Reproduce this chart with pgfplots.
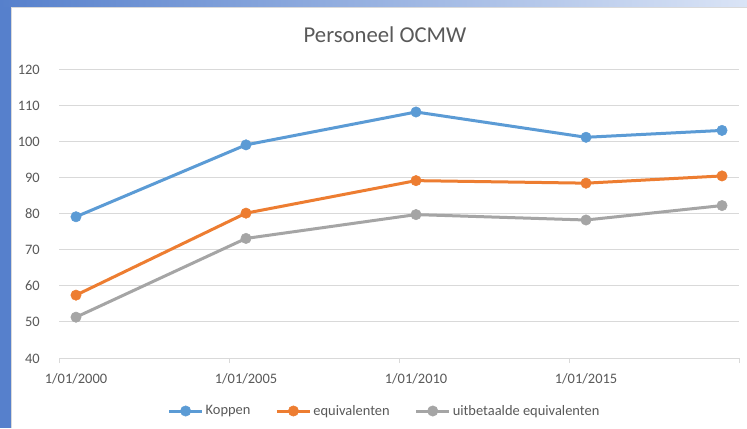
\documentclass[border=0pt]{standalone}
\usepackage{fontspec}
\setmainfont{Carlito}
\usepackage{pgfplots}
\pgfplotsset{compat=1.18}
\definecolor{kop}{RGB}{91,155,213}
\definecolor{equ}{RGB}{237,125,49}
\definecolor{uit}{RGB}{165,165,165}
\definecolor{txt}{RGB}{89,89,89}
\definecolor{gridc}{RGB}{217,217,217}
\definecolor{barblue}{RGB}{86,128,204}
\definecolor{barlight}{RGB}{218,228,246}
\newcommand{\TickFont}{\fontsize{14.5}{17}\selectfont}
\newcommand{\TitleFont}{\fontsize{22.8}{26}\selectfont}
\begin{document}
\begin{tikzpicture}[x=1bp,y=1bp]
\path[use as bounding box] (0,0) rectangle (747,428);
\fill[white] (0,0) rectangle (747,428);
\fill[barblue] (0,0) rectangle (11,428);
\shade[left color=barblue, right color=barlight] (0,421) rectangle (747,428);
\draw[gridc, line width=0.8bp] (11.5,0) -- (11.5,420.5) -- (747,420.5);
\node[text=txt, font=\TitleFont, inner sep=0pt] at (385,393) {Personeel OCMW};
\begin{axis}[
    at={(59bp,70bp)}, anchor=south west,
    scale only axis,
    width=680bp, height=289bp,
    xmin=2000, xmax=2020,
    ymin=40, ymax=120,
    % labels sit between the tick marks, under each data point
    xtick={2000.5,2005.5,2010.5,2015.5},
    xticklabels={1/01/2000,1/01/2005,1/01/2010,1/01/2015},
    extra x ticks={2000,2005,2010,2015,2020},
    extra x tick labels={},
    extra x tick style={xtick style={draw=gridc, line width=0.8bp}},
    ytick={40,50,...,120},
    /pgf/number format/assume math mode=true,
    axis line style={draw=none},
    ymajorgrids=true,
    grid style={draw=gridc, line width=0.8bp},
    xtick pos=lower,
    tick align=outside,
    major tick length=5bp,
    xtick style={draw=none},
    ytick style={draw=none},
    ticklabel style={font=\TickFont, text=txt, inner sep=0pt},
    xticklabel style={anchor=base, yshift=-20bp},
    yticklabel style={anchor=base east, xshift=-14bp, yshift=-5bp},
    legend columns=3,
    legend style={at={(axis description cs:0.4787,-0.1834)}, anchor=center,
        draw=none, fill=none, font=\TickFont, text=txt,
        /tikz/every even column/.append style={column sep=23bp}},
    legend cell align=left,
    legend image code/.code={
        \draw[mark repeat=2, mark phase=2] plot coordinates {(0bp,0bp) (16.5bp,0bp) (33bp,0bp)};
    },
    every axis plot/.append style={line width=3bp, mark=*, mark size=5.2bp},
    clip=false
]
\addplot[color=kop, mark options={fill=kop, draw=kop, line width=0.5bp}] coordinates {
    (2000.5,79.1) (2005.5,99.0) (2010.5,108.1) (2015.5,101.1) (2019.5,103.0)
};
\addlegendentry{Koppen}
\addplot[color=equ, mark options={fill=equ, draw=equ, line width=0.5bp}] coordinates {
    (2000.5,57.4) (2005.5,80.1) (2010.5,89.1) (2015.5,88.4) (2019.5,90.4)
};
\addlegendentry{equivalenten}
\addplot[color=uit, mark options={fill=uit, draw=uit, line width=0.5bp}] coordinates {
    (2000.5,51.3) (2005.5,73.1) (2010.5,79.7) (2015.5,78.2) (2019.5,82.2)
};
\addlegendentry{uitbetaalde equivalenten}
\end{axis}
\end{tikzpicture}
\end{document}
